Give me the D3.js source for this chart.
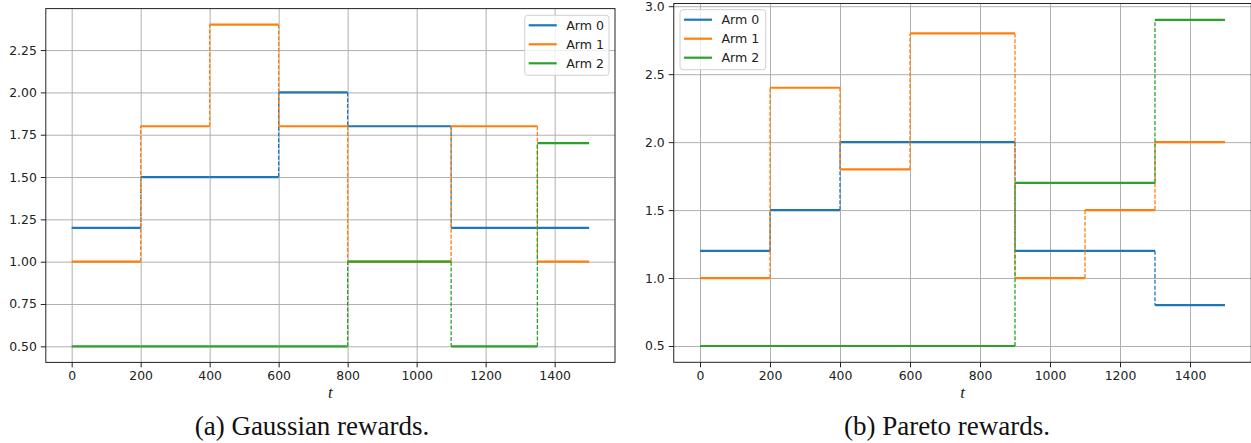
<!DOCTYPE html>
<html>
<head>
<meta charset="utf-8">
<script src="https://cdn.jsdelivr.net/npm/d3@7"></script>
<style>
body{margin:0;background:#fff;}
svg{display:block;}
</style>
</head>
<body>
<div id="chart"></div>
<script>
let svgWidth = 1251;
let svgHeight = 443;

let armNames = ["Arm 0", "Arm 1", "Arm 2"];
let armColors = ["#1f77b4", "#ff7f0e", "#2ca02c"];

// (a) gaussian rewards: change points and the mean of each arm between them
let gaussTimes = [0, 200, 400, 600, 800, 1100, 1350, 1500];
let gaussArm0 = [1.2, 1.5, 1.5, 2.0, 1.8, 1.2, 1.2];
let gaussArm1 = [1.0, 1.8, 2.4, 1.8, 1.0, 1.8, 1.0];
let gaussArm2 = [0.5, 0.5, 0.5, 0.5, 1.0, 0.5, 1.7];
let gaussYTicks = [0.5, 0.75, 1.0, 1.25, 1.5, 1.75, 2.0, 2.25];

// (b) pareto rewards
let paretoTimes = [0, 200, 400, 600, 900, 1100, 1300, 1500];
let paretoArm0 = [1.2, 1.5, 2.0, 2.0, 1.2, 1.2, 0.8];
let paretoArm1 = [1.0, 2.4, 1.8, 2.8, 1.0, 1.5, 2.0];
let paretoArm2 = [0.5, 0.5, 0.5, 0.5, 1.7, 1.7, 2.9];
let paretoYTicks = [0.5, 1.0, 1.5, 2.0, 2.5, 3.0];

let xTicks = [0, 200, 400, 600, 800, 1000, 1200, 1400];

let svg = d3.select("#chart")
  .append("svg")
    .attr("width", svgWidth)
    .attr("height", svgHeight);

function drawPanel(p){
  let x = d3.scaleLinear().domain(p.xDomain).range([p.left, p.right]);
  let y = d3.scaleLinear().domain(p.yDomain).range([p.bottom, p.top]);
  let h = p.bottom - p.top;
  let w = p.right - p.left;

  let g = svg.append("g");

  // grid
  g.append("g")
    .attr("transform", "translate(0," + p.bottom + ")")
    .call(d3.axisBottom(x).tickValues(xTicks).tickSize(-h).tickFormat(""))
    .call(a => a.select(".domain").remove())
    .selectAll("line").attr("stroke", "#b0b0b0").attr("stroke-width", 1);
  g.append("g")
    .attr("transform", "translate(" + p.left + ",0)")
    .call(d3.axisLeft(y).tickValues(p.yTicks).tickSize(-w).tickFormat(""))
    .call(a => a.select(".domain").remove())
    .selectAll("line").attr("stroke", "#b0b0b0").attr("stroke-width", 1);

  // step lines, solid horizontal pieces and dashed jumps
  p.arms.forEach(function(vals, k){
    let arm = g.append("g");
    arm.selectAll(".seg").data(vals).enter()
      .append("line")
      .attr("class", "seg")
      .attr("x1", (d, i) => x(p.times[i]))
      .attr("x2", (d, i) => x(p.times[i + 1]))
      .attr("y1", d => y(d))
      .attr("y2", d => y(d))
      .attr("stroke", armColors[k])
      .attr("stroke-width", 2.2);
    let jumps = vals.map((d, i) => ({t: p.times[i], from: vals[i - 1], to: d}))
      .filter((d, i) => i > 0 && d.from != d.to);
    arm.selectAll(".jump").data(jumps).enter()
      .append("line")
      .attr("class", "jump")
      .attr("x1", d => x(d.t))
      .attr("x2", d => x(d.t))
      .attr("y1", d => y(d.from))
      .attr("y2", d => y(d.to))
      .attr("stroke", armColors[k])
      .attr("stroke-width", 1.3)
      .attr("stroke-dasharray", "4,1.8");
  });

  // axes
  let xAxis = g.append("g")
    .attr("transform", "translate(0," + p.bottom + ")")
    .call(d3.axisBottom(x).tickValues(xTicks).tickSize(5).tickPadding(4).tickFormat(d3.format("d")));
  let yAxis = g.append("g")
    .attr("transform", "translate(" + p.left + ",0)")
    .call(d3.axisLeft(y).tickValues(p.yTicks).tickSize(5).tickPadding(4).tickFormat(d3.format(p.yFormat)));
  [xAxis, yAxis].forEach(function(a){
    a.select(".domain").remove();
    a.selectAll("text")
      .style("font-size", "12.4px")
      .style("font-family", "'DejaVu Sans', sans-serif")
      .attr("fill", "#222");
    a.selectAll("line").attr("stroke", "#222").attr("stroke-width", 1);
  });

  g.append("rect")
    .attr("x", p.left).attr("y", p.top)
    .attr("width", w).attr("height", h)
    .attr("fill", "none")
    .attr("stroke", "#222")
    .attr("stroke-width", 1);

  // legend
  let leg = g.append("g").attr("transform", "translate(" + p.legendX + "," + p.legendY + ")");
  leg.append("rect")
    .attr("width", p.legendW).attr("height", 60)
    .attr("rx", 3)
    .attr("fill", "white").attr("fill-opacity", 0.8)
    .attr("stroke", "#d0d0d0");
  let items = leg.selectAll(".item").data(armNames).enter()
    .append("g")
    .attr("transform", (d, i) => "translate(0," + (10 + i * 19) + ")");
  items.append("line")
    .attr("x1", 4).attr("x2", 32)
    .attr("stroke", (d, i) => armColors[i])
    .attr("stroke-width", 2.2);
  items.append("text")
    .attr("x", 41.5).attr("dy", "0.35em")
    .style("font-size", "12.6px")
    .style("font-family", "'DejaVu Sans', sans-serif")
    .attr("fill", "#222")
    .text(d => d);

  // x label and caption
  g.append("text")
    .attr("x", (p.left + p.right) / 2).attr("y", 398)
    .attr("text-anchor", "middle")
    .style("font-family", "'Liberation Serif', serif")
    .style("font-style", "italic")
    .style("font-size", "17px")
    .attr("fill", "#222")
    .text("t");
  g.append("text")
    .attr("x", p.captionX).attr("y", 435)
    .attr("text-anchor", "middle")
    .style("font-family", "'Liberation Serif', serif")
    .style("font-size", "27px")
    .attr("fill", "#111")
    .text(p.caption);
}

drawPanel({
  times: gaussTimes,
  arms: [gaussArm0, gaussArm1, gaussArm2],
  yTicks: gaussYTicks,
  yFormat: ".2f",
  xDomain: [-75, 1575],
  yDomain: [0.405, 2.495],
  left: 45.8, right: 615, top: 8.6, bottom: 362.4,
  legendX: 524.7, legendY: 15.3, legendW: 84.3,
  caption: "(a) Gaussian rewards.",
  captionX: 312
});

drawPanel({
  times: paretoTimes,
  arms: [paretoArm0, paretoArm1, paretoArm2],
  yTicks: paretoYTicks,
  yFormat: ".1f",
  xDomain: [-75, 1575],
  yDomain: [0.38, 3.02],
  left: 673.75, right: 1251.25, top: 3.5, bottom: 362.3,
  legendX: 680, legendY: 9.7, legendW: 85.7,
  caption: "(b) Pareto rewards.",
  captionX: 947
});
</script>
</body>
</html>
